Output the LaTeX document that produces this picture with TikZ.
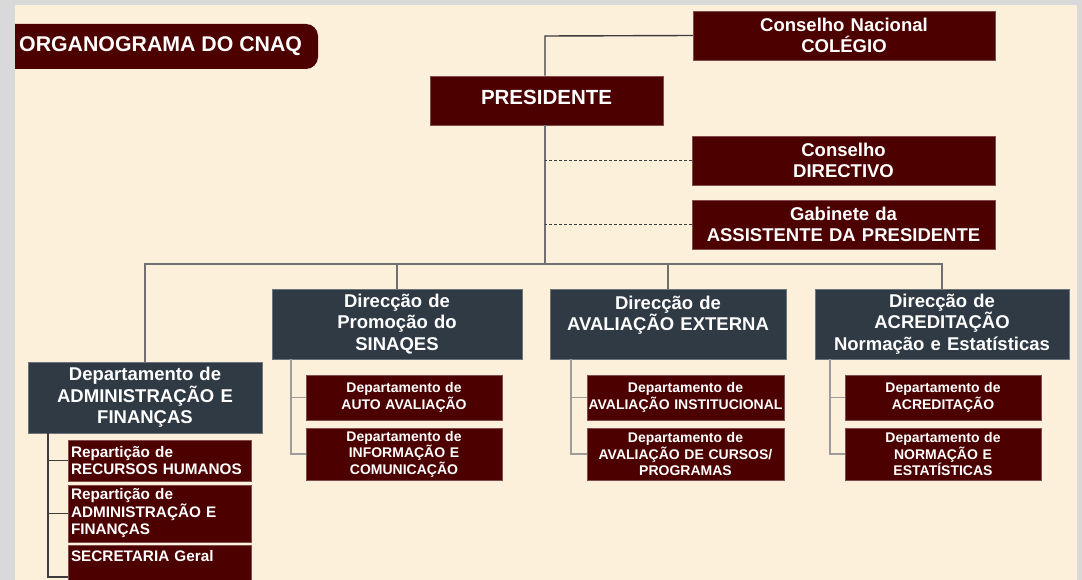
\documentclass[tikz,border=0pt]{standalone}
\usepackage{fontspec}
\setmainfont{Liberation Sans}
\definecolor{dred}{HTML}{4D0000}
\definecolor{slate}{HTML}{2F3A44}
\definecolor{cream}{HTML}{FDF0DA}
\definecolor{frame}{HTML}{D9D9D9}
\definecolor{lmain}{HTML}{707070}
\definecolor{lsub}{HTML}{9C9C9C}
\definecolor{ladm}{HTML}{3C3C3C}
\begin{document}
\begin{tikzpicture}[x=1pt,y=-1pt,
  base/.style={inner xsep=0pt, inner ysep=0pt, text=white, align=center, draw=#1!70!white, line width=0.5pt},
  redbox/.style={base=dred, fill=dred, font=\bfseries\fontsize{18.5}{21}\selectfont},
  dirbox/.style={base=slate, fill=slate, font=\bfseries\fontsize{18.5}{21.5}\selectfont},
  subbox/.style={base=dred, fill=dred, font=\bfseries\fontsize{14}{16.5}\selectfont},
  admbox/.style={base=dred, fill=dred, align=left, inner xsep=3pt, font=\bfseries\fontsize{15.3}{17.5}\selectfont},
  conn/.style={draw=lmain, line width=1.4pt},
  sconn/.style={draw=lsub, line width=1.4pt},
  aconn/.style={draw=ladm, line width=1.4pt},
  dconn/.style={draw=ladm, line width=0.9pt, dash pattern=on 3pt off 2pt}]
\useasboundingbox (0,0) rectangle (1082,580);
\fill[frame] (0,0) rectangle (1082,580);
\fill[cream] (15,5) rectangle (1077,580);
% title
\begin{scope}
\clip (15,0) rectangle (1082,580);
\fill[dred, rounded corners=12pt] (0,24) rectangle (318,69);
\end{scope}
\node[anchor=west, inner sep=0pt, text=white, font=\bfseries\fontsize{21.3}{26}\selectfont] (title) at (19,46.5) {ORGANOGRAMA DO CNAQ};
% top boxes
\node[redbox, minimum width=302, minimum height=49, text width=302] (cn) at (844,35.5) {Conselho Nacional\\COLÉGIO};
\node[redbox, minimum width=233, minimum height=49, text width=233, font=\bfseries\fontsize{20.5}{24}\selectfont] (pres) at (546.5,100.5) {\raisebox{3.5pt}[\height][\depth]{PRESIDENTE}};
\node[redbox, minimum width=303, minimum height=49, text width=303] (cd) at (843.5,160.5) {Conselho\\DIRECTIVO};
\node[redbox, minimum width=303, minimum height=49, text width=303] (gab) at (843.5,224.5) {Gabinete da\\ASSISTENTE DA PRESIDENTE};
% directions
\node[dirbox, minimum width=250, minimum height=70, text width=250] (dp) at (397,324) {Direcção de\\Promoção do\\SINAQES};
\node[dirbox, minimum width=236, minimum height=70, text width=236] (dae) at (668,324) {Direcção de\\AVALIAÇÃO EXTERNA\\\mbox{}};
\node[dirbox, minimum width=254, minimum height=70, text width=254] (dac) at (942,324) {Direcção de\\ACREDITAÇÃO\\Normação e Estatísticas};
\node[dirbox, minimum width=234, minimum height=71, text width=234] (dadm) at (145,397.5) {Departamento de\\ADMINISTRAÇÃO E\\FINANÇAS};
% sub departments
\node[subbox, minimum width=196, minimum height=45, text width=196] (p1) at (404,397.5) {Departamento de\\AUTO AVALIAÇÃO};
\node[subbox, minimum width=196, minimum height=52, text width=196] (p2) at (404,454) {Departamento de\\INFORMAÇÃO E\\COMUNICAÇÃO};
\node[subbox, minimum width=197, minimum height=45, text width=197] (e1) at (685.5,397.5) {Departamento de\\AVALIAÇÃO INSTITUCIONAL};
\node[subbox, minimum width=197, minimum height=52, text width=197] (e2) at (685.5,454) {Departamento de\\AVALIAÇÃO DE CURSOS/\\PROGRAMAS};
\node[subbox, minimum width=196, minimum height=45, text width=196] (a1) at (943,397.5) {Departamento de\\ACREDITAÇÃO};
\node[subbox, minimum width=196, minimum height=52, text width=196] (a2) at (943,454) {Departamento de\\NORMAÇÃO E\\ESTATÍSTICAS};
% admin
\node[admbox, minimum width=183, minimum height=41, text width=177] (r1) at (159.5,460.5) {Repartição de\\RECURSOS HUMANOS};
\node[admbox, minimum width=183, minimum height=57, text width=177] (r2) at (159.5,513.5) {Repartição de\\ADMINISTRAÇÃO E\\FINANÇAS};
\node[admbox, minimum width=183, minimum height=40, text width=177] (r3) at (159.5,565) {SECRETARIA Geral\\\mbox{}};
% connectors
\coordinate (bus) at (545,264);
\coordinate (ptop) at (545,36);
\draw[aconn] (cn.west) -- (ptop) -- (ptop |- pres.north);
\draw[conn] (pres.south -| bus) -- (bus);
\draw[dconn] (cd.west) -- (cd.west -| bus);
\draw[dconn] (gab.west) -- (gab.west -| bus);
\draw[conn] (dadm.north) |- (bus) -| (dac.north);
\draw[conn] (dp.north) -- (dp.north |- bus);
\draw[conn] (dae.north) -- (dae.north |- bus);
% sub connectors
\coordinate (dpx) at (291,359);
\coordinate (daex) at (571,359);
\coordinate (dacx) at (830,359);
\coordinate (admx) at (48,433);
\draw[sconn] (dpx) |- (p2.west);
\draw[sconn] (p1.west) -- (p1.west -| dpx);
\draw[sconn] (daex) |- (e2.west);
\draw[sconn] (e1.west) -- (e1.west -| daex);
\draw[sconn] (dacx) |- (a2.west);
\draw[sconn] (a1.west) -- (a1.west -| dacx);
\coordinate (r3c) at (68,577);
\draw[aconn] (admx) |- (r3c);
\draw[aconn] (r1.west) -- (r1.west -| admx);
\draw[aconn] (r2.west) -- (r2.west -| admx);
\end{tikzpicture}
\end{document}
